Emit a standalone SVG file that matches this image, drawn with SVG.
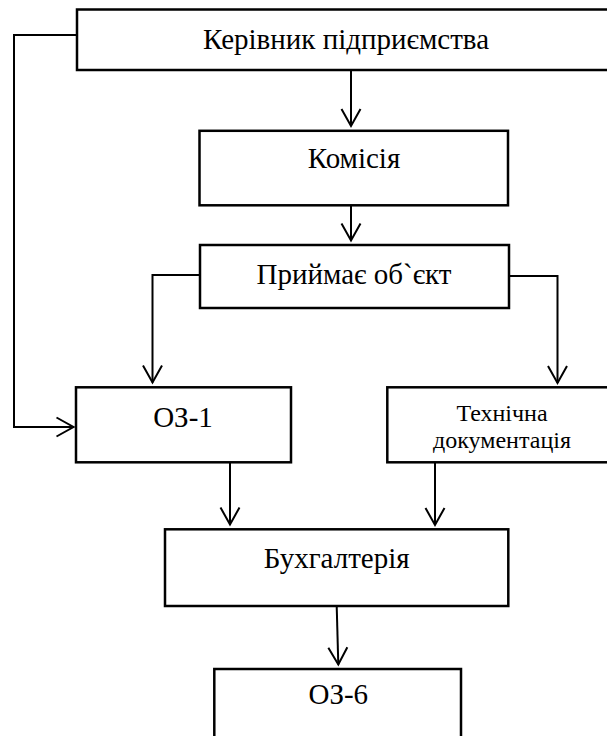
<svg xmlns="http://www.w3.org/2000/svg" width="607" height="736" viewBox="0 0 607 736">
  <style>
    .box { fill: #ffffff; stroke: #000000; stroke-width: 2.5; }
    .lbl { font-family: "Liberation Serif", "Times New Roman", serif; font-size: 29px; fill: #000000; text-anchor: middle; }
    .sm { font-size: 24px; }
    .con { fill: none; stroke: #000000; stroke-width: 2; }
  </style>
  <defs>
    <marker id="arr" markerUnits="userSpaceOnUse" markerWidth="24" markerHeight="24" viewBox="-20 -12 24 24" refX="0" refY="0" orient="auto">
      <path d="M-17,-9.5 L0,0 L-17,9.5" fill="none" stroke="#000000" stroke-width="2"/>
    </marker>
  </defs>
  <rect width="607" height="736" fill="#ffffff"/>

  <g id="connectors">
    <path class="con" d="M77,35 H14 V427 H73.5" marker-end="url(#arr)"/>
    <path class="con" d="M351,70 V126" marker-end="url(#arr)"/>
    <path class="con" d="M351,205 V240.5" marker-end="url(#arr)"/>
    <path class="con" d="M200,275 H152.5 V382.5" marker-end="url(#arr)"/>
    <path class="con" d="M509,276 H557.5 V383" marker-end="url(#arr)"/>
    <path class="con" d="M230,462 V524.5" marker-end="url(#arr)"/>
    <path class="con" d="M435,462 V525" marker-end="url(#arr)"/>
    <path class="con" d="M336.7,606 L338.3,664.5" marker-end="url(#arr)"/>
  </g>

  <g id="kerivnyk">
    <rect class="box" x="77" y="9.5" width="540" height="60.5"/>
    <text class="lbl" x="346" y="49">Керівник підприємства</text>
  </g>
  <g id="komisiia">
    <rect class="box" x="199.5" y="130.8" width="308.5" height="74.5"/>
    <text class="lbl" x="354" y="168">Комісія</text>
  </g>
  <g id="pryimaie">
    <rect class="box" x="200" y="245" width="309" height="63"/>
    <text class="lbl" x="354" y="284">Приймає об`єкт</text>
  </g>
  <g id="oz1">
    <rect class="box" x="76" y="387.3" width="215" height="75"/>
    <text class="lbl" x="183" y="427">ОЗ-1</text>
  </g>
  <g id="tekhnichna">
    <rect class="box" x="387.3" y="387.3" width="230" height="75"/>
    <text class="lbl sm" x="502" y="421">Технічна</text>
    <text class="lbl sm" x="502" y="448">документація</text>
  </g>
  <g id="bukhhalteriia">
    <rect class="box" x="165" y="529.3" width="343.3" height="76.7"/>
    <text class="lbl" x="336.7" y="568">Бухгалтерія</text>
  </g>
  <g id="oz6">
    <rect class="box" x="214.3" y="669" width="246.7" height="80"/>
    <text class="lbl" x="338.3" y="704">ОЗ-6</text>
  </g>
</svg>
